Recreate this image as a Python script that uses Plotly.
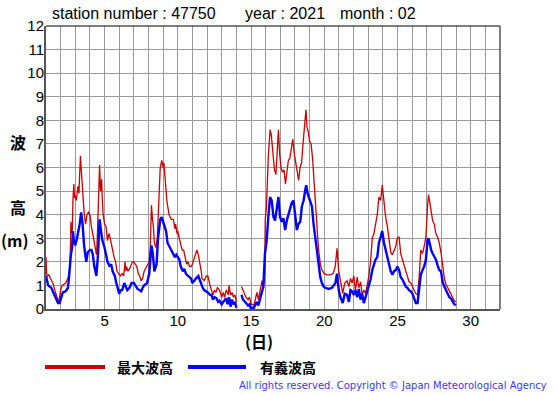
import plotly.graph_objects as go

# ---------------- data ----------------
station = "47750"
year = "2021"
month = "02"

# 最大波高 (maximum wave height), (day, metres)
max_wave = [
    (1.00, 2.2), (1.04, 1.5), (1.1, 1.4), (1.2, 1.45), (1.3, 1.3), (1.4, 1.2), (1.5, 1.05), (1.6, 0.8),
    (1.7, 0.55), (1.8, 0.35), (1.85, 0.3), (1.93, 0.5), (2.0, 0.8), (2.1, 1.0), (2.25, 1.05), (2.35, 1.1),
    (2.5, 1.3), (2.6, 1.6), (2.65, 2.0), (2.7, 3.7), (2.75, 3.2), (2.8, 3.4), (2.84, 4.6), (2.9, 5.3),
    (2.95, 4.7), (3.0, 4.8), (3.07, 4.6), (3.12, 5.0), (3.18, 5.2), (3.25, 4.9), (3.3, 5.8), (3.35, 6.5),
    (3.4, 6.0), (3.45, 5.4), (3.5, 5.0), (3.6, 4.1), (3.7, 3.6), (3.8, 4.0), (3.9, 4.1), (4.0, 4.0),
    (4.1, 3.5), (4.2, 3.2), (4.25, 3.0), (4.35, 2.6), (4.45, 2.3), (4.5, 3.0), (4.57, 4.5), (4.62, 5.3),
    (4.66, 6.1), (4.72, 5.0), (4.8, 5.5), (4.85, 4.6), (4.9, 4.0), (5.0, 3.6), (5.1, 3.5), (5.2, 2.9),
    (5.3, 3.2), (5.35, 3.1), (5.45, 2.7), (5.55, 2.5), (5.65, 2.2), (5.75, 2.0), (5.85, 1.6), (5.95, 1.5),
    (6.08, 1.4), (6.2, 1.5), (6.3, 1.4), (6.4, 2.0), (6.45, 1.6), (6.5, 1.8), (6.6, 1.6), (6.7, 1.7),
    (6.8, 1.9), (6.9, 2.0), (7.0, 2.0), (7.1, 1.9), (7.2, 1.8), (7.3, 1.5), (7.4, 1.4), (7.5, 1.2),
    (7.6, 1.3), (7.7, 1.6), (7.8, 1.7), (7.9, 1.8), (8.0, 1.9), (8.05, 2.0), (8.12, 2.6), (8.2, 4.4),
    (8.27, 3.8), (8.33, 3.5), (8.4, 2.8), (8.5, 2.6), (8.6, 3.0), (8.7, 4.5), (8.8, 6.0), (8.9, 6.3),
    (8.95, 6.1), (9.0, 6.0), (9.05, 6.2), (9.1, 5.7), (9.2, 5.0), (9.25, 4.6), (9.35, 4.2), (9.4, 4.0),
    (9.55, 3.8), (9.7, 3.8), (9.8, 3.4), (9.85, 3.6), (9.95, 3.2), (10.0, 3.3), (10.1, 3.0), (10.2, 2.8),
    (10.3, 2.5), (10.4, 2.5), (10.5, 2.1), (10.6, 1.9), (10.7, 2.0), (10.8, 1.8), (10.9, 1.8), (11.0, 1.9),
    (11.15, 2.2), (11.3, 2.5), (11.4, 2.3), (11.5, 2.0), (11.6, 1.6), (11.65, 1.3), (11.8, 1.2), (11.95, 1.4),
    (12.05, 1.4), (12.2, 1.0), (12.3, 0.8), (12.4, 0.6), (12.5, 0.8), (12.6, 0.7), (12.7, 0.9), (12.85, 0.8),
    (13.0, 0.5), (13.1, 0.7), (13.2, 0.5), (13.3, 0.8), (13.45, 0.6), (13.5, 1.0), (13.6, 0.6), (13.7, 0.7),
    (13.8, 0.5), (13.9, 0.6), (14.0, 0.3), (14.2, None), (14.35, 0.95), (14.45, 0.8), (14.55, 0.7),
    (14.65, 0.5), (14.8, 0.4), (14.9, 0.5), (15.0, 0.2), (15.1, 0.2), (15.2, 0.15), (15.3, 0.4),
    (15.4, 0.7), (15.5, 0.4), (15.65, 0.8), (15.75, 1.2), (15.85, 0.9), (15.93, 1.5), (15.97, 3.8),
    (16.05, 4.3), (16.18, 6.45), (16.3, 7.6), (16.38, 7.4), (16.45, 7.0), (16.52, 6.4), (16.6, 5.9),
    (16.7, 5.7), (16.78, 6.5), (16.87, 7.6), (16.95, 6.6), (17.05, 6.0), (17.15, 5.8), (17.25, 5.9),
    (17.35, 5.3), (17.45, 5.7), (17.55, 6.3), (17.65, 6.4), (17.78, 7.0), (17.85, 7.2), (17.95, 6.6),
    (18.05, 6.25), (18.15, 5.9), (18.25, 5.45), (18.35, 6.0), (18.45, 6.2), (18.55, 7.0), (18.65, 7.85),
    (18.75, 8.45), (18.82, 7.7), (18.9, 7.55), (19.0, 7.1), (19.1, 7.0), (19.2, 6.4), (19.27, 5.7),
    (19.35, 4.8), (19.45, 3.9), (19.5, 3.3), (19.6, 2.6), (19.73, 1.9), (19.84, 1.65), (20.0, 1.5),
    (20.2, 1.45), (20.4, 1.45), (20.6, 1.5), (20.75, 1.8), (20.87, 2.57), (20.98, 1.65), (21.1, 1.2),
    (21.17, 0.95), (21.26, 0.66), (21.4, 1.1), (21.56, 1.2), (21.68, 0.95), (21.79, 1.3), (21.9, 1.1),
    (22.02, 1.4), (22.13, 0.8), (22.25, 1.35), (22.36, 0.9), (22.48, 1.15), (22.59, 0.6), (22.7, 0.8),
    (22.82, 0.66), (22.93, 0.95), (23.05, 1.4), (23.16, 2.0), (23.28, 3.0), (23.39, 3.2), (23.5, 3.55),
    (23.62, 4.0), (23.73, 4.75), (23.85, 4.6), (23.96, 5.25), (24.08, 4.5), (24.19, 3.9), (24.31, 3.5),
    (24.42, 3.05), (24.54, 2.4), (24.65, 2.3), (24.76, 2.5), (24.88, 2.65), (24.99, 3.0), (25.11, 3.05),
    (25.22, 2.35), (25.34, 2.1), (25.45, 1.85), (25.57, 1.6), (25.68, 1.4), (25.79, 1.15), (25.91, 1.1),
    (26.02, 0.95), (26.14, 0.75), (26.25, 0.65), (26.37, 0.6), (26.48, 1.35), (26.59, 2.5), (26.71, 2.35),
    (26.82, 2.65), (26.94, 3.05), (27.05, 4.35), (27.12, 4.85), (27.21, 4.5), (27.3, 4.05), (27.4, 3.75),
    (27.51, 3.6), (27.62, 3.2), (27.74, 3.05), (27.85, 2.8), (27.97, 2.4), (28.08, 1.8), (28.2, 1.3),
    (28.31, 1.05), (28.43, 0.9), (28.54, 0.75), (28.65, 0.6), (28.77, 0.45), (28.88, 0.35), (29.0, 0.3),
]

# 有義波高 (significant wave height), (day, metres)
sig_wave = [
    (1.0, 1.4), (1.07, 1.2), (1.15, 1.0), (1.25, 0.95), (1.36, 0.9), (1.5, 0.7), (1.6, 0.55), (1.7, 0.4),
    (1.82, 0.25), (1.93, 0.25), (2.05, 0.5), (2.15, 0.7), (2.34, 0.75), (2.5, 0.9), (2.55, 1.2), (2.62, 1.9),
    (2.7, 2.3), (2.78, 2.6), (2.84, 3.3), (2.9, 2.9), (3.0, 2.7), (3.12, 3.0), (3.23, 3.3), (3.3, 3.6),
    (3.4, 4.1), (3.5, 3.6), (3.6, 2.7), (3.7, 2.1), (3.75, 2.0), (3.85, 2.4), (4.0, 2.5), (4.1, 2.5),
    (4.2, 2.3), (4.3, 1.8), (4.44, 1.4), (4.55, 2.3), (4.6, 3.0), (4.66, 3.8), (4.76, 3.3), (4.85, 2.9),
    (5.0, 2.6), (5.1, 2.2), (5.2, 2.0), (5.35, 1.8), (5.45, 1.9), (5.55, 1.6), (5.7, 1.4), (5.8, 1.1),
    (5.9, 0.9), (6.0, 0.65), (6.1, 0.8), (6.2, 0.8), (6.35, 1.1), (6.45, 0.9), (6.55, 0.8), (6.7, 0.9),
    (6.85, 1.1), (7.0, 1.1), (7.1, 1.0), (7.25, 0.85), (7.4, 0.8), (7.5, 0.75), (7.6, 0.9), (7.7, 1.0),
    (7.9, 1.1), (8.05, 1.5), (8.15, 2.3), (8.2, 2.7), (8.3, 2.3), (8.4, 1.6), (8.55, 1.9), (8.65, 3.0),
    (8.8, 3.8), (8.9, 3.9), (9.05, 3.6), (9.2, 3.3), (9.3, 2.8), (9.45, 2.6), (9.6, 2.4), (9.7, 2.3),
    (9.8, 2.2), (9.9, 2.3), (10.0, 2.2), (10.1, 2.1), (10.2, 1.8), (10.35, 1.6), (10.45, 1.7), (10.55, 1.5),
    (10.7, 1.4), (10.9, 1.3), (11.0, 1.1), (11.1, 1.2), (11.25, 1.3), (11.4, 1.4), (11.5, 1.2), (11.55, 1.1),
    (11.7, 0.9), (11.8, 0.8), (12.05, 0.7), (12.2, 0.6), (12.3, 0.6), (12.4, 0.4), (12.5, 0.5), (12.65, 0.45),
    (12.75, 0.3), (12.85, 0.35), (13.0, 0.2), (13.1, 0.3), (13.2, 0.4), (13.3, 0.45), (13.4, 0.2), (13.5, 0.5),
    (13.6, 0.1), (13.7, 0.4), (13.8, 0.2), (13.9, 0.3), (14.0, 0.05), (14.2, None), (14.35, 0.6), (14.45, 0.4),
    (14.6, 0.3), (14.7, 0.2), (14.8, 0.15), (14.9, 0.2), (15.0, 0.0), (15.1, 0.05), (15.2, 0.05), (15.3, 0.2),
    (15.4, 0.3), (15.5, 0.15), (15.65, 0.5), (15.75, 0.75), (15.84, 0.95), (15.95, 2.35), (16.07, 2.9),
    (16.18, 3.9), (16.3, 4.75), (16.41, 4.6), (16.53, 3.9), (16.64, 3.75), (16.76, 4.3), (16.87, 4.75),
    (16.98, 3.9), (17.1, 3.7), (17.21, 3.85), (17.33, 3.35), (17.44, 3.75), (17.56, 4.05), (17.67, 4.35),
    (17.78, 4.5), (17.9, 4.6), (18.01, 3.9), (18.13, 3.35), (18.24, 3.6), (18.36, 3.7), (18.47, 4.35),
    (18.59, 4.6), (18.7, 5.05), (18.77, 5.25), (18.86, 4.9), (18.93, 4.75), (19.04, 4.6), (19.16, 4.35),
    (19.27, 3.6), (19.39, 3.05), (19.5, 2.5), (19.62, 1.95), (19.73, 1.35), (19.84, 1.1), (19.96, 0.95),
    (20.07, 0.9), (20.3, 0.85), (20.53, 0.9), (20.76, 1.1), (20.87, 1.5), (20.99, 0.8), (21.1, 0.5),
    (21.26, 0.25), (21.4, 0.65), (21.56, 0.6), (21.68, 0.3), (21.79, 0.8), (21.9, 0.75), (22.02, 0.6),
    (22.13, 0.8), (22.25, 0.5), (22.36, 0.85), (22.48, 0.4), (22.59, 0.65), (22.7, 0.25), (22.82, 0.5),
    (22.93, 0.75), (23.05, 0.95), (23.16, 1.25), (23.28, 1.65), (23.39, 1.85), (23.5, 2.1), (23.62, 2.2),
    (23.73, 2.8), (23.85, 3.05), (23.96, 3.3), (24.08, 2.8), (24.19, 2.5), (24.31, 2.2), (24.42, 1.95),
    (24.54, 1.6), (24.65, 1.45), (24.76, 1.6), (24.88, 1.65), (24.99, 1.8), (25.11, 1.65), (25.22, 1.35),
    (25.34, 1.25), (25.45, 1.1), (25.57, 0.95), (25.68, 0.9), (25.79, 0.8), (25.91, 0.75), (26.02, 0.65),
    (26.14, 0.45), (26.25, 0.25), (26.37, 0.25), (26.48, 0.8), (26.59, 1.45), (26.71, 1.65), (26.82, 1.8),
    (26.94, 2.1), (27.05, 2.9), (27.12, 3.0), (27.21, 2.65), (27.3, 2.5), (27.4, 2.35), (27.51, 2.2),
    (27.62, 2.1), (27.74, 1.85), (27.85, 1.65), (27.97, 1.6), (28.08, 1.15), (28.2, 0.95), (28.31, 0.8),
    (28.43, 0.65), (28.54, 0.5), (28.65, 0.45), (28.77, 0.3), (28.88, 0.2), (29.0, 0.17),
]

x_ticks = list(range(1, 33))
x_tick_labels = [str(d) if d % 5 == 0 else "" for d in x_ticks]
y_ticks = list(range(0, 13))

series_names = ["最大波高", "有義波高"]
series_colors = ["#cc0000", "#0000ff"]

# ---------------- figure ----------------
W, H = 555, 395
L, R, T, B = 46, 55, 26, 86
PW, PH = W - L - R, H - T - B


def px(x):
    return (x - L) / PW


def py(y):
    return (H - B - y) / PH


fig = go.Figure()
fig.add_trace(go.Scatter(
    x=[d for d, v in max_wave], y=[v for d, v in max_wave], mode="lines",
    name=series_names[0], line=dict(color=series_colors[0], width=1.3), connectgaps=False,
))
fig.add_trace(go.Scatter(
    x=[d for d, v in sig_wave], y=[v for d, v in sig_wave], mode="lines",
    name=series_names[1], line=dict(color=series_colors[1], width=2.4), connectgaps=False,
))

tick_font = dict(family="Liberation Sans, Arial, sans-serif", size=15, color="black")
cjk = "Noto Sans CJK JP"

fig.update_layout(
    width=W, height=H,
    margin=dict(l=L, r=R, t=T, b=B, pad=0),
    paper_bgcolor="white", plot_bgcolor="white",
    showlegend=False,
    xaxis=dict(
        range=[1, 32], tickmode="array", tickvals=x_ticks, ticktext=x_tick_labels,
        showgrid=True, gridcolor="#999999", gridwidth=1, zeroline=False,
        showline=True, linecolor="#555555", linewidth=2, ticks="",
        tickfont=tick_font, fixedrange=True, ticklabelstandoff=-3,
    ),
    yaxis=dict(
        range=[0, 12], tickmode="array", tickvals=y_ticks,
        showgrid=True, gridcolor="#999999", gridwidth=1, zeroline=False,
        showline=True, linecolor="#555555", linewidth=2, ticks="",
        tickfont=tick_font, fixedrange=True, ticklabelstandoff=-3,
    ),
)

# plot frame (top & right thin black)
fig.add_shape(type="line", xref="paper", yref="paper", x0=0, x1=1, y0=1, y1=1,
              line=dict(color="black", width=1))
fig.add_shape(type="line", xref="paper", yref="paper", x0=1, x1=1, y0=0, y1=1,
              line=dict(color="black", width=1))

title_font = dict(family="Liberation Sans, Arial, sans-serif", size=16, color="black")
for txt, xpos in [(f"station number : {station}", 50), (f"year : {year}", 243), (f"month : {month}", 338)]:
    fig.add_annotation(text=txt, xref="paper", yref="paper", x=px(xpos), y=py(14),
                       xanchor="left", yanchor="middle", showarrow=False, font=title_font)

# y axis label (vertical Japanese)
ylab_font = dict(family=cjk, size=16, color="black", weight="bold")
for txt, xc, yc in [("波", 18, 142), ("高", 18, 207), ("(m)", 15, 240)]:
    fig.add_annotation(text=txt, xref="paper", yref="paper", x=px(xc), y=py(yc),
                       xanchor="center", yanchor="middle", showarrow=False, font=ylab_font)

# x axis label
fig.add_annotation(text="(日)", xref="paper", yref="paper", x=px(259), y=py(341),
                   xanchor="center", yanchor="middle", showarrow=False,
                   font=dict(family=cjk, size=16, color="black", weight="bold"))

# legend (drawn)
leg_font = dict(family=cjk, size=14, color="black", weight="bold")
for name, color, x0, x1, tx in [(series_names[0], series_colors[0], 45, 105, 115),
                                (series_names[1], series_colors[1], 188, 246, 258)]:
    fig.add_shape(type="line", xref="paper", yref="paper", x0=px(x0), x1=px(x1),
                  y0=py(367), y1=py(367), line=dict(color=color, width=4))
    fig.add_annotation(text=name, xref="paper", yref="paper", x=px(tx), y=py(367),
                       xanchor="left", yanchor="middle", showarrow=False, font=leg_font)

# copyright
fig.add_annotation(text="All rights reserved. Copyright © Japan Meteorological Agency",
                   xref="paper", yref="paper", x=px(549), y=py(385),
                   xanchor="right", yanchor="middle", showarrow=False,
                   font=dict(family="DejaVu Sans, Verdana, sans-serif", size=10, color="#3a3ae6"))

fig.write_html("out.html", config={"displayModeBar": False},
               post_script="document.body.style.margin='0';")
